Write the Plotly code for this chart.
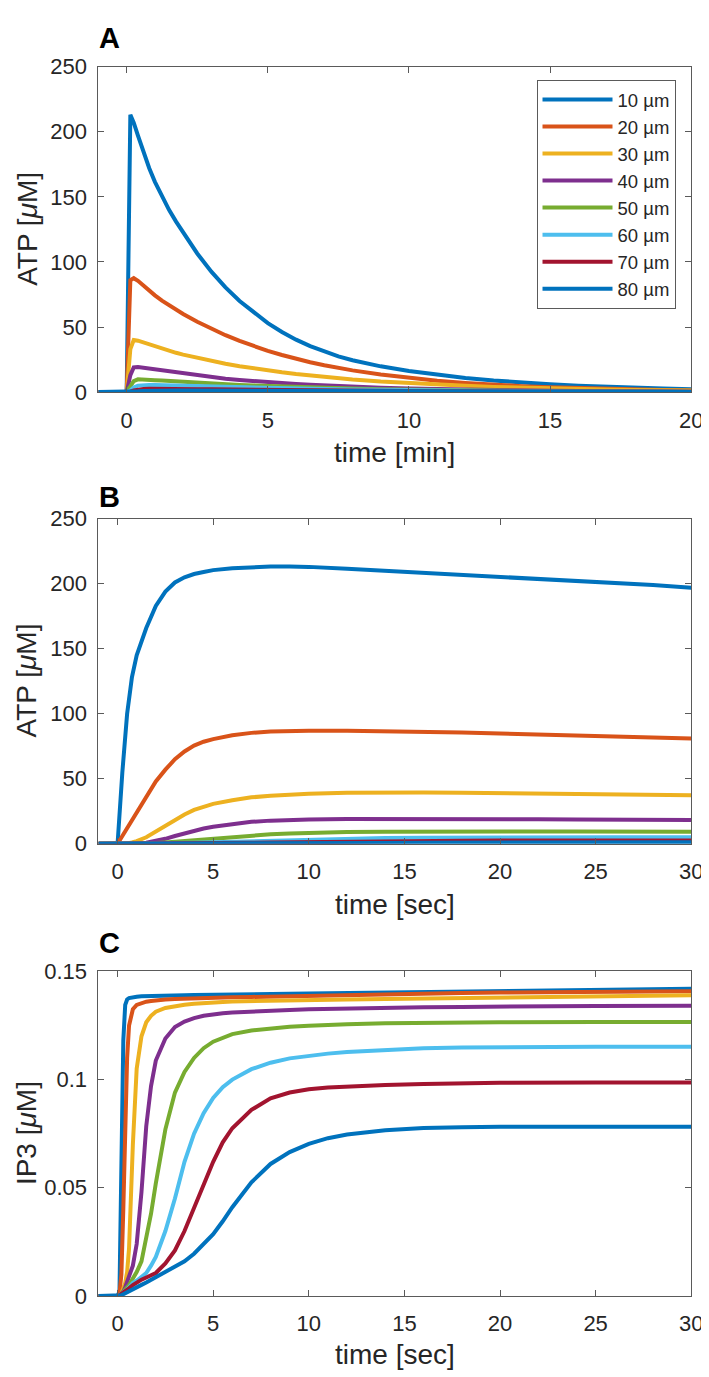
import plotly.graph_objects as go

W, H = 709, 1377

labels = ["10 µm", "20 µm", "30 µm", "40 µm", "50 µm", "60 µm", "70 µm", "80 µm"]
colors = ["#0072BD", "#D95319", "#EDB120", "#7E2F8E", "#77AC30", "#4DBEEE", "#A2142F", "#0072BD"]

# ---------------- Panel A: ATP [uM] vs time [min] ----------------
A_time = [-1, 0, 0.13, 0.25, 0.4, 0.6, 0.8, 1, 1.25, 1.5, 1.75, 2, 2.5, 3, 3.5, 4, 4.5, 5, 5.5, 6,
          6.5, 7, 7.5, 8, 9, 10, 11, 12, 13, 14, 15, 16, 17, 18, 19, 20]
A_10 = [0, 0, 213, 207, 197, 184, 172, 161.5, 150, 140, 131, 122.5, 106.5, 92.5, 80.5, 70, 61, 53, 46.2, 40.3,
        35.3, 31, 27.5, 24.5, 19.8, 16.2, 13.3, 10.9, 8.9, 7.3, 6.0, 4.9, 4.0, 3.3, 2.7, 2.2]
A_20 = [0, 0, 86, 87.5, 85.5, 81.5, 77.8, 74.3, 70.3, 66.6, 63.2, 60, 54, 48.6, 43.7, 39.3, 35.3, 31.7, 28.5, 25.6,
        23, 20.7, 18.6, 16.7, 13.5, 10.9, 8.8, 7.1, 5.7, 4.6, 3.7, 3.0, 2.4, 1.95, 1.6, 1.3]
A_30 = [0, 0, 33, 40, 39.5, 38, 36.5, 35, 33.3, 31.7, 30.2, 28.8, 26.2, 23.9, 21.8, 19.9, 18.2, 16.6, 15.2, 13.9,
        12.7, 11.6, 10.6, 9.7, 8.1, 6.8, 5.7, 4.8, 4.0, 3.35, 2.8, 2.35, 1.95, 1.65, 1.4, 1.15]
A_40 = [0, 0, 13, 19, 19.3, 18.7, 18, 17.3, 16.5, 15.7, 14.9, 14.1, 12.7, 11.4, 10.3, 9.3, 8.4, 7.6, 6.85, 6.2,
        5.6, 5.05, 4.55, 4.1, 3.35, 2.75, 2.25, 1.85, 1.5, 1.23, 1.0, 0.82, 0.67, 0.55, 0.45, 0.37]
A_50 = [0, 0, 4.5, 8.5, 9.8, 9.8, 9.5, 9.2, 8.85, 8.5, 8.15, 7.8, 7.2, 6.6, 6.05, 5.55, 5.1, 4.65, 4.25, 3.9,
        3.55, 3.25, 2.95, 2.7, 2.25, 1.85, 1.55, 1.3, 1.07, 0.9, 0.75, 0.62, 0.52, 0.43, 0.36, 0.3]
A_60 = [0, 0, 1.2, 3.5, 5, 5.5, 5.5, 5.4, 5.25, 5.1, 4.95, 4.8, 4.5, 4.2, 3.9, 3.62, 3.36, 3.12, 2.9, 2.68,
        2.48, 2.3, 2.13, 1.97, 1.68, 1.43, 1.22, 1.04, 0.88, 0.75, 0.64, 0.54, 0.46, 0.39, 0.33, 0.28]
A_70 = [0, 0, 0.3, 1.2, 2.0, 2.4, 2.55, 2.6, 2.57, 2.52, 2.46, 2.4, 2.26, 2.12, 1.99, 1.86, 1.74, 1.63, 1.52, 1.42,
        1.33, 1.24, 1.16, 1.08, 0.94, 0.82, 0.71, 0.62, 0.54, 0.47, 0.41, 0.35, 0.31, 0.27, 0.23, 0.2]
A_80 = [0, 0, 0.05, 0.35, 0.7, 0.95, 1.1, 1.18, 1.2, 1.2, 1.18, 1.16, 1.11, 1.06, 1.01, 0.96, 0.91, 0.86, 0.82, 0.78,
        0.74, 0.7, 0.66, 0.63, 0.56, 0.5, 0.45, 0.4, 0.36, 0.32, 0.29, 0.26, 0.23, 0.21, 0.19, 0.17]

# ---------------- Panel B: ATP [uM] vs time [sec] ----------------
B_time = [-1, 0, 0.25, 0.5, 0.75, 1, 1.5, 2, 2.5, 3, 3.5, 4, 4.5, 5, 6, 7, 8, 9, 10,
          12, 14, 16, 18, 20, 22, 24, 26, 28, 30]
B_10 = [0, 0, 55, 100, 128, 145, 166, 183, 194, 201, 205, 207.5, 209, 210.5, 212, 213, 213.3, 213.3, 213,
        211.5, 210, 208.5, 207, 205.5, 204, 202.5, 200.5, 199, 197]
B_20 = [0, 0, 6, 12, 18.5, 25, 37, 48, 57, 65, 71, 75.5, 78.5, 80.5, 83.5, 85.3, 86.3, 86.8, 87,
        87, 86.7, 86.2, 85.5, 84.8, 84, 83.2, 82.5, 81.8, 81]
B_30 = [0, 0, 0, 0.3, 1, 2, 5, 9.5, 14, 18.5, 22.5, 26, 28.5, 30.7, 33.5, 35.7, 37, 38, 38.5,
        39.2, 39.5, 39.4, 39.2, 39, 38.7, 38.4, 38.1, 37.8, 37.4]
B_40 = [0, 0, 0, 0, 0.1, 0.2, 0.8, 2, 3.8, 6, 8, 10, 11.7, 13.1, 15.3, 16.9, 17.8, 18.4, 18.7,
        19, 19.1, 19.1, 19, 18.9, 18.8, 18.6, 18.5, 18.3, 18.2]
B_50 = [0, 0, 0, 0, 0, 0.05, 0.2, 0.5, 1, 1.6, 2.3, 3, 3.7, 4.3, 5.5, 6.5, 7.3, 7.9, 8.4,
        9, 9.3, 9.5, 9.5, 9.5, 9.45, 9.4, 9.35, 9.3, 9.2]
B_60 = [0, 0, 0, 0, 0, 0, 0.05, 0.1, 0.2, 0.35, 0.5, 0.7, 0.9, 1.1, 1.6, 2.1, 2.6, 3.0, 3.4,
        4.0, 4.4, 4.7, 4.9, 5.0, 5.05, 5.1, 5.1, 5.1, 5.1]
B_70 = [0, 0, 0, 0, 0, 0, 0, 0.02, 0.05, 0.1, 0.15, 0.2, 0.27, 0.35, 0.55, 0.75, 0.95, 1.15, 1.35,
        1.7, 2.0, 2.2, 2.35, 2.45, 2.5, 2.55, 2.55, 2.55, 2.55]
B_80 = [0, 0, 0, 0, 0, 0, 0, 0, 0.01, 0.02, 0.03, 0.05, 0.07, 0.09, 0.14, 0.2, 0.27, 0.34, 0.41,
        0.55, 0.68, 0.8, 0.9, 0.98, 1.05, 1.1, 1.14, 1.17, 1.2]

# ---------------- Panel C: IP3 [uM] vs time [sec] ----------------
C_time = [-1, 0, 0.1, 0.2, 0.3, 0.4, 0.5, 0.6, 0.8, 1, 1.25, 1.5, 1.75, 2, 2.5, 3, 3.5, 4, 4.5, 5,
          5.5, 6, 7, 8, 9, 10, 11, 12, 14, 16, 18, 20, 25, 30]
C_10 = [0, 0, 0.002, 0.05, 0.118, 0.1345, 0.137, 0.1377, 0.1381, 0.1383, 0.1385, 0.1386, 0.1387, 0.1388,
        0.1389, 0.139, 0.139, 0.1391, 0.1392, 0.1392, 0.1393, 0.1394, 0.1395, 0.1396, 0.1397, 0.1398,
        0.1399, 0.14, 0.1403, 0.1406, 0.1409, 0.1411, 0.1416, 0.142]
C_20 = [0, 0, 0.001, 0.01, 0.04, 0.08, 0.11, 0.125, 0.1325, 0.1345, 0.1355, 0.136, 0.1363, 0.1366,
        0.137, 0.1372, 0.1374, 0.1376, 0.1377, 0.1378, 0.1379, 0.138, 0.1382, 0.1384, 0.1386, 0.1388,
        0.139, 0.1392, 0.1395, 0.1398, 0.14, 0.1402, 0.1405, 0.1408]
C_30 = [0, 0, 0, 0.001, 0.003, 0.006, 0.011, 0.022, 0.07, 0.105, 0.12, 0.1265, 0.1295, 0.1314,
        0.1331, 0.134, 0.1346, 0.135, 0.1354, 0.1357, 0.1359, 0.1361, 0.1363, 0.1365, 0.1367, 0.1368,
        0.1369, 0.137, 0.1372, 0.1374, 0.1377, 0.138, 0.1385, 0.139]
C_40 = [0, 0, 0, 0.001, 0.002, 0.004, 0.006, 0.009, 0.014, 0.024, 0.048, 0.0785, 0.097, 0.1088,
        0.119, 0.1243, 0.1268, 0.1284, 0.1295, 0.1302, 0.1307, 0.131, 0.1315, 0.1319, 0.1322, 0.1325,
        0.1327, 0.1329, 0.1332, 0.1334, 0.1336, 0.1338, 0.134, 0.1341]
C_50 = [0, 0, 0, 0.001, 0.002, 0.003, 0.004, 0.005, 0.008, 0.011, 0.016, 0.026, 0.038, 0.052,
        0.077, 0.094, 0.1035, 0.11, 0.1145, 0.1175, 0.1195, 0.121, 0.1227, 0.1237, 0.1244, 0.1249,
        0.1253, 0.1256, 0.126, 0.1262, 0.1264, 0.1265, 0.1266, 0.1266]
C_60 = [0, 0, 0, 0.001, 0.0015, 0.002, 0.003, 0.004, 0.006, 0.007, 0.0088, 0.0106, 0.014, 0.018,
        0.03, 0.045, 0.062, 0.075, 0.0845, 0.0915, 0.0965, 0.1, 0.1048, 0.1078, 0.1098, 0.1111,
        0.112, 0.1127, 0.1138, 0.1145, 0.1148, 0.115, 0.1152, 0.1152]
C_70 = [0, 0, 0, 0.001, 0.0015, 0.002, 0.0028, 0.0035, 0.005, 0.0062, 0.0075, 0.0085, 0.0095, 0.0106,
        0.015, 0.021, 0.03, 0.041, 0.052, 0.062, 0.071, 0.0775, 0.086, 0.0913, 0.094, 0.0955,
        0.0963, 0.0968, 0.0975, 0.098, 0.0983, 0.0985, 0.0986, 0.0986]
C_80 = [0, 0, 0, 0.0003, 0.0008, 0.0013, 0.0018, 0.0022, 0.0031, 0.004, 0.0051, 0.0062, 0.0074, 0.0086,
        0.0108, 0.0132, 0.016, 0.0195, 0.0237, 0.0285, 0.0345, 0.041, 0.0525, 0.061, 0.0665, 0.0703,
        0.0729, 0.0746, 0.0766, 0.0776, 0.078, 0.0782, 0.0782, 0.0782]

A_series = [A_10, A_20, A_30, A_40, A_50, A_60, A_70, A_80]
B_series = [B_10, B_20, B_30, B_40, B_50, B_60, B_70, B_80]
C_series = [C_10, C_20, C_30, C_40, C_50, C_60, C_70, C_80]

A_xticks = [0, 5, 10, 15, 20]
BC_xticks = [0, 5, 10, 15, 20, 25, 30]
ATP_yticks = [0, 50, 100, 150, 200, 250]
IP3_yticks = [0, 0.05, 0.1, 0.15]
IP3_yticklabels = ["0", "0.05", "0.1", "0.15"]

FONT = "Liberation Sans, Arial, Helvetica, sans-serif"
AXC = "#5a5a5a"
TXT = "#262626"
LW = 4


def yp(py):
    return 1 - py / H


X_DOM = [92 / W, 695 / W]
panels = [
    ("x", "y", 47.5, 379),
    ("x2", "y2", 508, 839),
    ("x3", "y3", 969, 1299.5),
]

fig = go.Figure()
data_sets = [(A_time, A_series, "x", "y", True),
             (B_time, B_series, "x2", "y2", False),
             (C_time, C_series, "x3", "y3", False)]
for tvals, series, xa, ya, show in data_sets:
    for i, (lab, col) in enumerate(zip(labels, colors)):
        n = min(len(tvals), len(series[i]))
        fig.add_trace(go.Scatter(x=tvals[:n], y=series[i][:n], mode="lines", name=lab,
                                 line=dict(color=col, width=LW),
                                 xaxis=xa, yaxis=ya, legendgroup=lab, showlegend=show))

common = dict(showline=True, linecolor=AXC, linewidth=1, mirror="ticks", ticks="inside",
              ticklen=6, tickwidth=1, tickcolor=AXC, showgrid=False, zeroline=False,
              tickfont=dict(family=FONT, size=22, color=TXT))

layout = dict(
    width=W, height=H, margin=dict(l=0, r=0, t=0, b=0),
    paper_bgcolor="white", plot_bgcolor="white",
    font=dict(family=FONT, color=TXT),
    showlegend=True,
    legend=dict(x=679 / W, xanchor="right", y=yp(61), yanchor="top",
                bgcolor="white", bordercolor=AXC, borderwidth=1,
                font=dict(family=FONT, size=18.5, color=TXT),
                itemwidth=70, tracegroupgap=0),
)

xranges = [[-1, 20], [-1, 30], [-1, 30]]
xticks = [A_xticks, BC_xticks, BC_xticks]
yranges = [[0, 250], [0, 250], [0, 0.15]]
for k, (xa, ya, top, bot) in enumerate(panels):
    xkey = "xaxis" if xa == "x" else "xaxis" + xa[1:]
    ykey = "yaxis" if ya == "y" else "yaxis" + ya[1:]
    layout[xkey] = dict(common, domain=X_DOM, range=xranges[k], anchor=ya,
                        tickvals=xticks[k], ticklabelstandoff=8)
    ydict = dict(common, domain=[yp(bot), yp(top)], range=yranges[k], anchor=xa,
                 ticklabelstandoff=6)
    if k < 2:
        ydict["tickvals"] = ATP_yticks
    else:
        ydict["tickvals"] = IP3_yticks
        ydict["ticktext"] = IP3_yticklabels
    layout[ykey] = ydict

fig.update_layout(**layout)

ann = []
for letter, py in [("A", 18), ("B", 486), ("C", 940)]:
    ann.append(dict(text="<b>%s</b>" % letter, x=103 / W, y=yp(py), xref="paper", yref="paper",
                    xanchor="center", yanchor="middle", showarrow=False,
                    font=dict(family=FONT, size=29, color="black")))
for txt, py in [("time [min]", 440), ("time [sec]", 901), ("time [sec]", 1359)]:
    ann.append(dict(text=txt, x=393.5 / W, y=yp(py), xref="paper", yref="paper",
                    xanchor="center", yanchor="middle", showarrow=False,
                    font=dict(family=FONT, size=28, color=TXT)))
for txt, py in [("ATP [<i>μ</i>M]", 213), ("ATP [<i>μ</i>M]", 673), ("IP3 [<i>μ</i>M]", 1134)]:
    ann.append(dict(text=txt, x=19 / W, y=yp(py), xref="paper", yref="paper",
                    xanchor="center", yanchor="middle", textangle=-90, showarrow=False,
                    font=dict(family=FONT, size=28, color=TXT)))
fig.update_layout(annotations=ann)

fig.write_html("out.html")
